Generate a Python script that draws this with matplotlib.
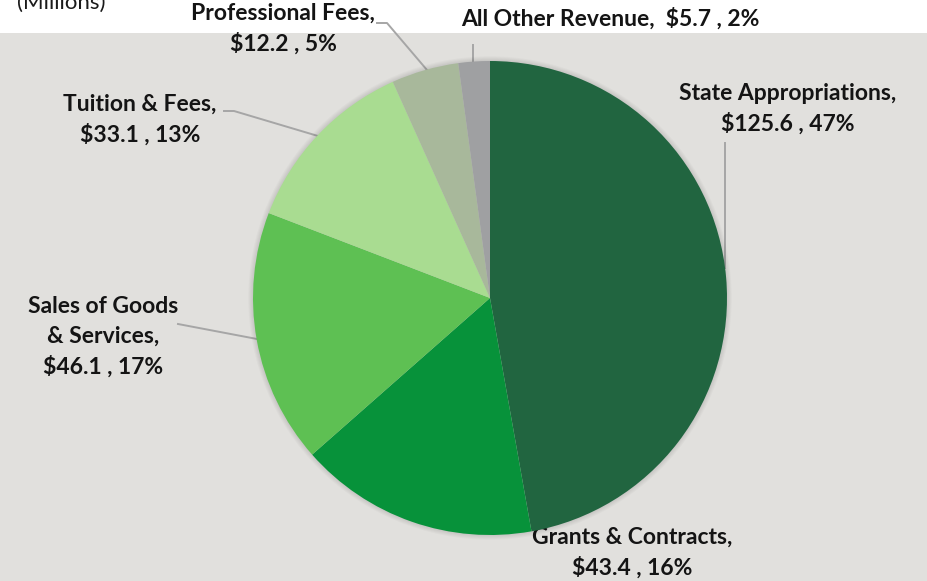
import matplotlib.pyplot as plt
from matplotlib.patches import Rectangle, Circle

# Revenue sources (millions)
categories = ['State Appropriations', 'Grants & Contracts', 'Sales of Goods\n& Services',
              'Tuition & Fees', 'Professional Fees', 'All Other Revenue']
values = [125.6, 43.4, 46.1, 33.1, 12.2, 5.7]
percents = [47, 16, 17, 13, 5, 2]
colors = ['#216540', '#07923a', '#5ec053', '#a9dc91', '#a8b89b', '#9fa0a2']

W, H = 927, 581
fig = plt.figure(figsize=(W / 100, H / 100), dpi=100, facecolor='white')

# overlay axes in pixel coords for background, labels and leader lines
bg = fig.add_axes([0, 0, 1, 1], zorder=0)
bg.set_xlim(0, W)
bg.set_ylim(H, 0)
bg.axis('off')
bg.add_patch(Rectangle((0, 33), W, H - 33, facecolor='#e1e0dd', edgecolor='none'))

# pie axes (square in pixels, centred on the pie)
cx, cy, r = 490, 298, 237
pad = 1.05
ax = fig.add_axes([(cx - r * pad) / W, (H - cy - r * pad) / H,
                   2 * r * pad / W, 2 * r * pad / H], zorder=1)

# soft shadow
for i in range(6):
    ax.add_patch(Circle((0, 0), 1.0 + 0.004 * i, facecolor='#000000',
                        alpha=0.018, edgecolor='none', zorder=0))

ax.pie(values, colors=colors, startangle=90, counterclock=False, radius=1,
       wedgeprops=dict(linewidth=0))
ax.set_xlim(-pad, pad)
ax.set_ylim(-pad, pad)
ax.axis('off')

font = dict(family=['Lato', 'DejaVu Sans'], fontsize=16.5, fontweight='bold',
            color='#141414', ha='center', va='center', linespacing=1.48)

def lab(i, x, y, one_line=False):
    sep = ',  ' if one_line else ',\n'
    txt = f'{categories[i]}{sep}${values[i]} , {percents[i]}%'
    bg.text(x, y, txt, **font)

lab(0, 788, 109)
lab(1, 632, 553)
lab(2, 103, 337)
lab(3, 140, 120)
lab(4, 283, 29)
lab(5, 610, 19, one_line=True)

line = dict(color='#a6a6a6', lw=1.4, zorder=2)
bg.plot([725, 725], [143, 268], **line)
bg.plot([224, 234, 318], [111, 111, 136], **line)
bg.plot([178, 257], [324, 339], **line)
bg.plot([377, 387, 427], [23, 23, 70], **line)
bg.plot([473, 473], [45, 62], **line)

bg.text(17, 9, '(Millions)', family=['Lato', 'DejaVu Sans'], fontsize=16,
        color='#1a1a1a', ha='left', va='baseline')

fig.savefig('out.png', dpi=100, facecolor='white')
